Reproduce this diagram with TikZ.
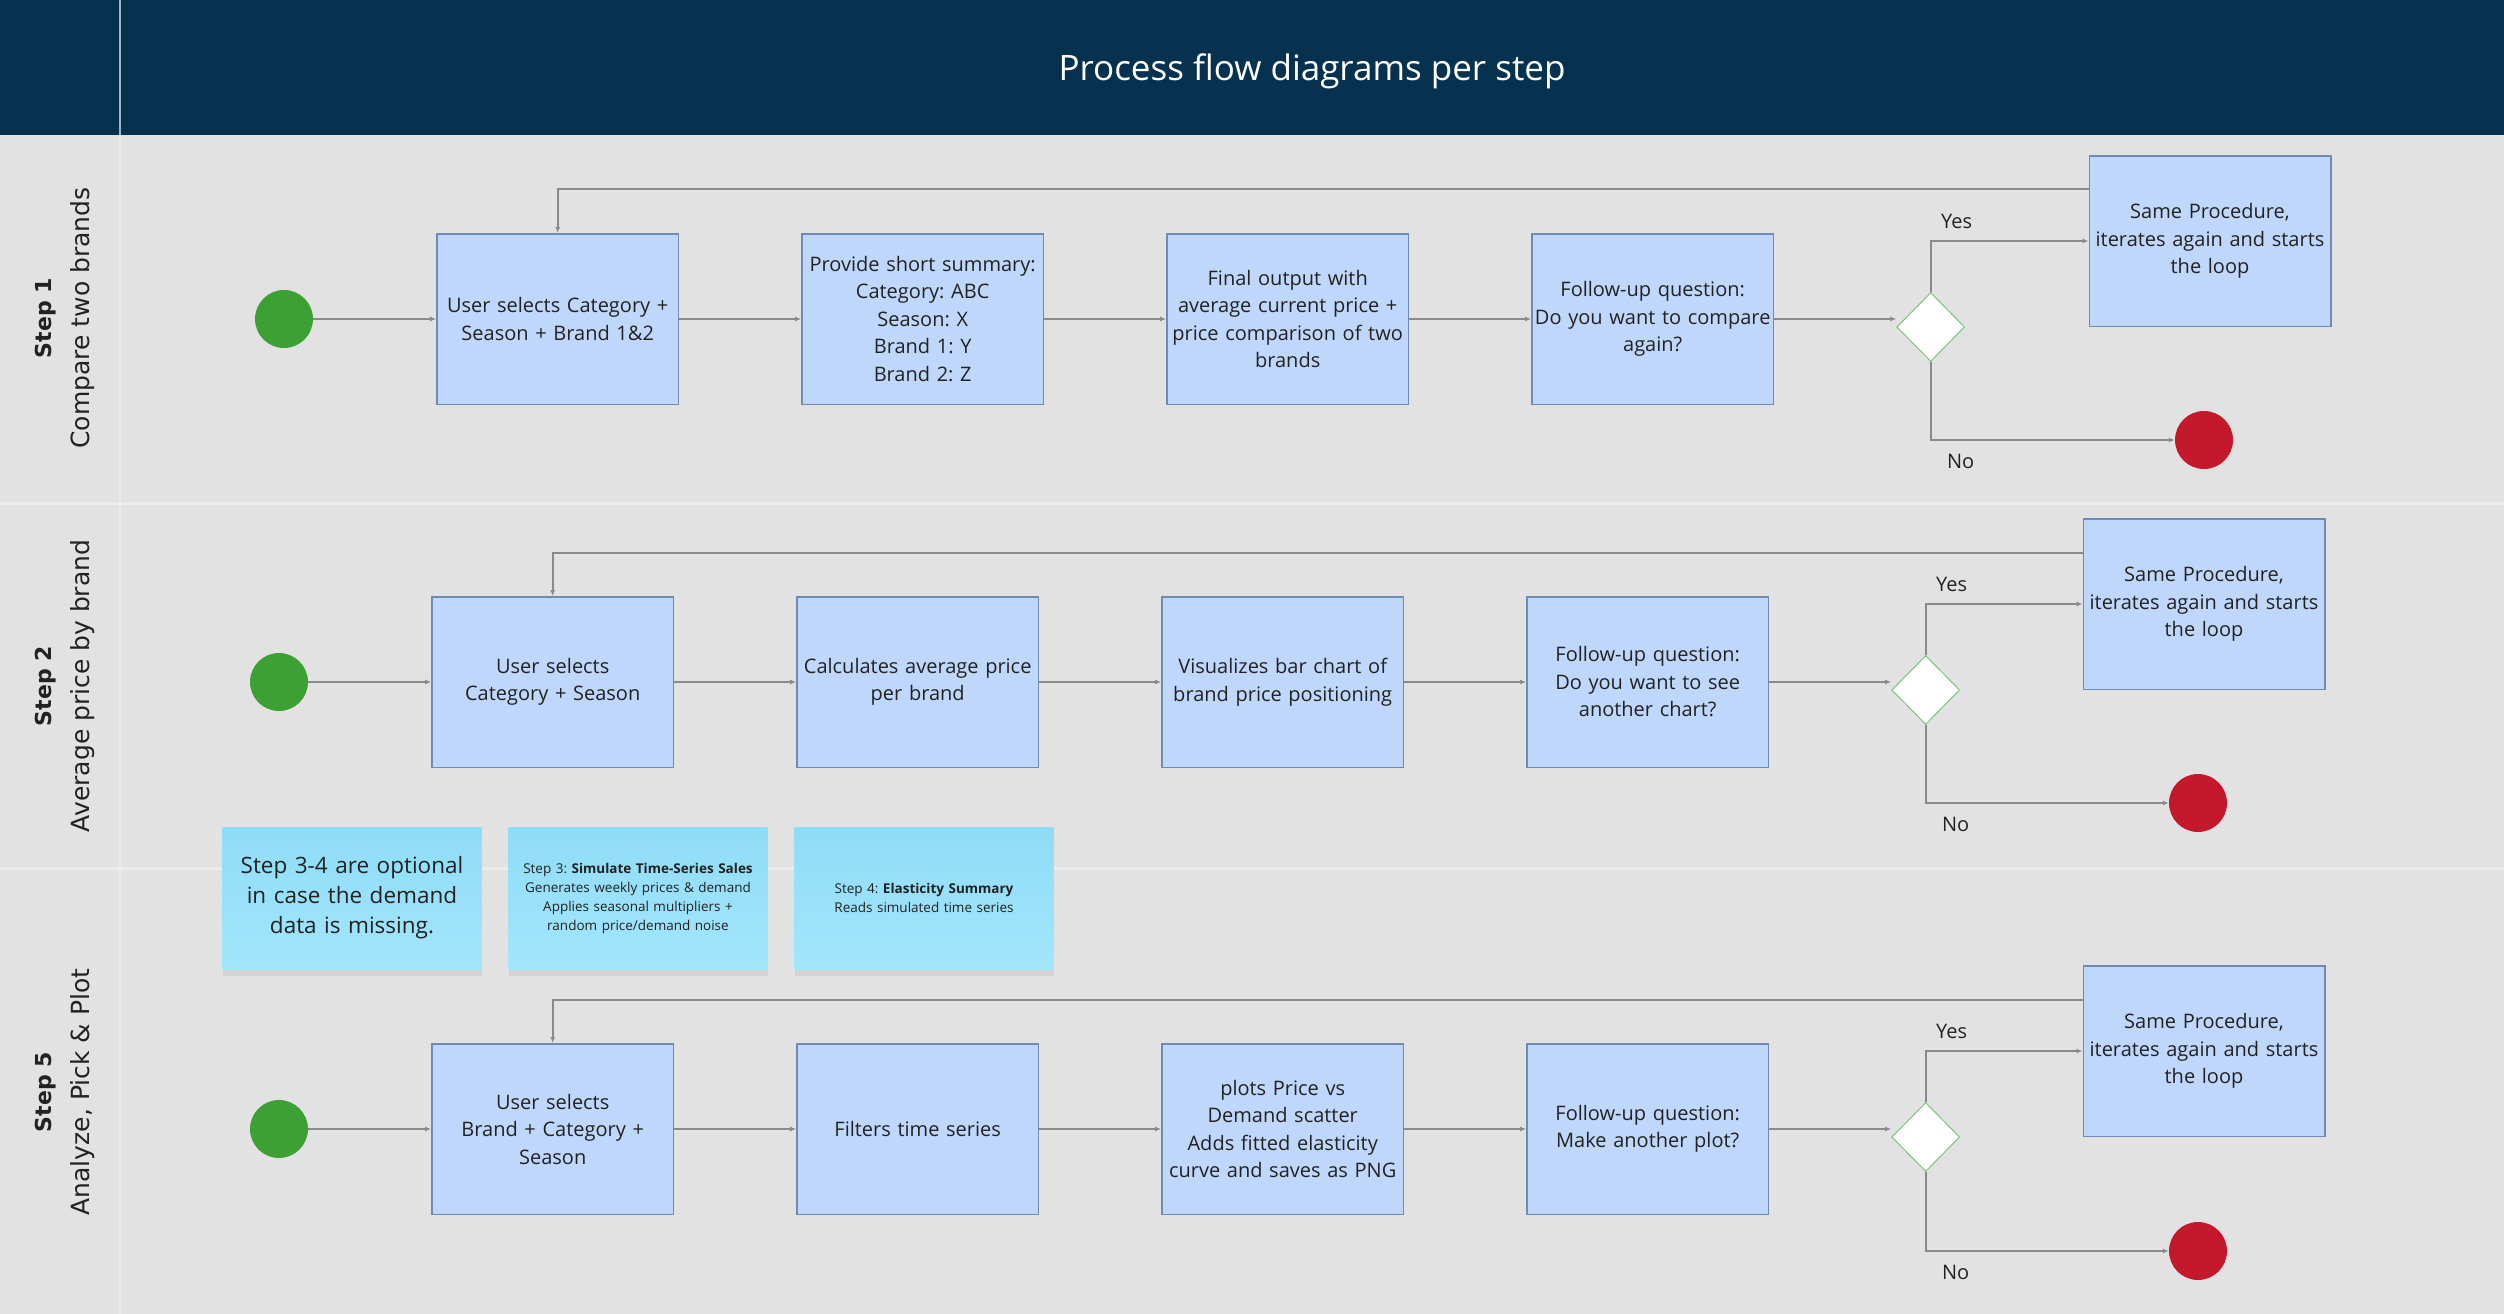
\documentclass[tikz,border=0pt]{standalone}
\usepackage{fontspec}
\setmainfont{Open Sans}
\newfontfamily\lanefont{DejaVu Sans}
\usepackage{tikz}
\usetikzlibrary{shapes.geometric, arrows.meta, positioning, shadows}
\frenchspacing

\definecolor{canvas}{HTML}{E2E2E2}
\definecolor{header}{HTML}{06324F}
\definecolor{headrule}{HTML}{9FB4C6}
\definecolor{lanerule}{HTML}{ECECEC}
\definecolor{boxfill}{HTML}{BFD7FB}
\definecolor{boxline}{HTML}{6F8BB3}
\definecolor{textcol}{HTML}{222222}
\definecolor{flowgray}{HTML}{8A8A8A}
\definecolor{startgreen}{HTML}{3DA035}
\definecolor{stopred}{HTML}{C4182C}
\definecolor{choiceline}{HTML}{7CC47A}
\definecolor{notetop}{HTML}{8FDCF7}
\definecolor{notebot}{HTML}{A2E6FC}

\begin{document}
\begin{tikzpicture}[x=1pt, y=-1pt, node distance = 122pt,
  stepbox/.style = {draw=boxline, fill=boxfill, line width=1.5pt, minimum width=241.5pt, minimum height=170.5pt, text width=238pt, align=center, inner sep=0pt, text=textcol, font=\fontsize{20}{27.5}\selectfont},
  startdot/.style = {circle, fill=startgreen, minimum size=58pt, inner sep=0pt},
  enddot/.style = {circle, fill=stopred, minimum size=58pt, inner sep=0pt},
  choice/.style = {diamond, draw=choiceline, fill=white, line width=1pt, minimum width=68pt, minimum height=69pt, inner sep=0pt},
  flow/.style = {draw=flowgray, line width=1.6pt, -{Latex[length=6pt, width=5pt]}},
  answer/.style = {text=textcol, inner sep=0pt, font=\fontsize{20}{24}\selectfont},
  sticky/.style = {minimum width=259pt, minimum height=142pt, text width=250pt, align=center, inner sep=0pt, top color=notetop, bottom color=notebot, text=textcol, drop shadow={opacity=0.15, shadow xshift=0pt, shadow yshift=-7pt}},
  lanetitle/.style = {rotate=90, align=center, text=textcol, font=\lanefont\fontsize{25}{38}\selectfont}]

  \useasboundingbox (0,0) rectangle (2504,1314);
  \fill [canvas] (0,0) rectangle (2504,1314);
  \fill [header] (0,0) rectangle (2504,135);
  \draw [headrule, line width=2pt] (120,0) -- (120,135);
  \draw [lanerule, line width=2pt] (120,135) -- (120,1314);
  \draw [lanerule, line width=3pt] (0,503) -- (2504,503);
  \draw [lanerule, line width=3pt] (0,868) -- (2504,868);

  \node [text=white, font=\fontsize{35}{42}\selectfont] (title) at (1312,71) {Process flow diagrams per step};

  \node [lanetitle] (lane1) at (65,318) {{\bfseries\fontsize{22}{38}\selectfont Step 1}\\Compare two brands};
  \node [lanetitle] (lane2) at (65,686) {{\bfseries\fontsize{22}{38}\selectfont Step 2}\\Average price by brand};
  \node [lanetitle] (lane3) at (65,1092) {{\bfseries\fontsize{22}{38}\selectfont Step 5}\\Analyze, Pick \& Plot};

  \node [startdot] (st1) at (284,319) {};
  \node [stepbox, right=123pt of st1] (b11) {User selects Category +\\Season + Brand 1\&2};
  \node [stepbox, right=of b11] (b12) {Provide short summary:\\Category: ABC\\Season: X\\Brand 1: Y\\Brand 2: Z};
  \node [stepbox, right=of b12] (b13) {Final output with\\average current price +\\price comparison of two\\brands};
  \node [stepbox, right=of b13] (b14) {Follow-up question:\\Do you want to compare\\again?};
  \node [choice, right=of b14, yshift=-8pt] (d1) {};
  \node [stepbox] (s1) at (2210,241) {Same Procedure,\\iterates again and starts\\the loop};
  \node [enddot] (e1) at (2204,440) {};

  \node [startdot] (st2) at (279,682) {};
  \node [stepbox, right=123pt of st2] (b21) {User selects\\Category + Season};
  \node [stepbox, right=of b21] (b22) {Calculates average price\\per brand};
  \node [stepbox, right=of b22] (b23) {Visualizes bar chart of\\brand price positioning};
  \node [stepbox, right=of b23] (b24) {Follow-up question:\\Do you want to see\\another chart?};
  \node [choice, right=of b24, yshift=-8pt] (d2) {};
  \node [stepbox] (s2) at (2204,604) {Same Procedure,\\iterates again and starts\\the loop};
  \node [enddot] (e2) at (2198,803) {};

  \node [startdot] (st3) at (279,1129) {};
  \node [stepbox, right=123pt of st3] (b31) {User selects\\Brand + Category +\\Season};
  \node [stepbox, right=of b31] (b32) {Filters time series};
  \node [stepbox, right=of b32] (b33) {plots Price vs\\Demand scatter\\Adds fitted elasticity\\curve and saves as PNG};
  \node [stepbox, right=of b33] (b34) {Follow-up question:\\Make another plot?};
  \node [choice, right=of b34, yshift=-8pt] (d3) {};
  \node [stepbox] (s3) at (2204,1051) {Same Procedure,\\iterates again and starts\\the loop};
  \node [enddot] (e3) at (2198,1251) {};

  \node [sticky, font=\fontsize{22.5}{30}\selectfont] (n1) at (352,898) {Step 3-4 are optional\\in case the demand\\data is missing.};
  \node [sticky, font=\fontsize{13.5}{19}\selectfont] (n2) at (638,898) {Step 3: \textbf{Simulate Time-Series Sales}\\Generates weekly prices \& demand\\Applies seasonal multipliers +\\random price/demand noise};
  \node [sticky, font=\fontsize{13.5}{19}\selectfont] (n3) at (924,898) {Step 4: \textbf{Elasticity Summary}\\Reads simulated time series};

  \draw [flow] (st1) -- (b11);
  \draw [flow] (b11) -- (b12);
  \draw [flow] (b12) -- (b13);
  \draw [flow] (b13) -- (b14);
  \draw [flow] (b14.east) -- (b14.east -| d1.west);
  \draw [flow] (d1.north) |- node [answer, pos=0.5, anchor=south, xshift=26pt, yshift=12pt] {Yes} (s1.west);
  \draw [flow] (d1.south) |- node [answer, pos=0.5, anchor=north, xshift=30pt, yshift=-13pt] {No} (e1.west);
  \draw [flow] ([yshift=-34pt]s1.north west) -| (b11.north);

  \draw [flow] (st2) -- (b21);
  \draw [flow] (b21) -- (b22);
  \draw [flow] (b22) -- (b23);
  \draw [flow] (b23) -- (b24);
  \draw [flow] (b24.east) -- (b24.east -| d2.west);
  \draw [flow] (d2.north) |- node [answer, pos=0.5, anchor=south, xshift=26pt, yshift=12pt] {Yes} (s2.west);
  \draw [flow] (d2.south) |- node [answer, pos=0.5, anchor=north, xshift=30pt, yshift=-13pt] {No} (e2.west);
  \draw [flow] ([yshift=-35pt]s2.north west) -| (b21.north);

  \draw [flow] (st3) -- (b31);
  \draw [flow] (b31) -- (b32);
  \draw [flow] (b32) -- (b33);
  \draw [flow] (b33) -- (b34);
  \draw [flow] (b34.east) -- (b34.east -| d3.west);
  \draw [flow] (d3.north) |- node [answer, pos=0.5, anchor=south, xshift=26pt, yshift=12pt] {Yes} (s3.west);
  \draw [flow] (d3.south) |- node [answer, pos=0.5, anchor=north, xshift=30pt, yshift=-13pt] {No} (e3.west);
  \draw [flow] ([yshift=-35pt]s3.north west) -| (b31.north);
\end{tikzpicture}
\end{document}
